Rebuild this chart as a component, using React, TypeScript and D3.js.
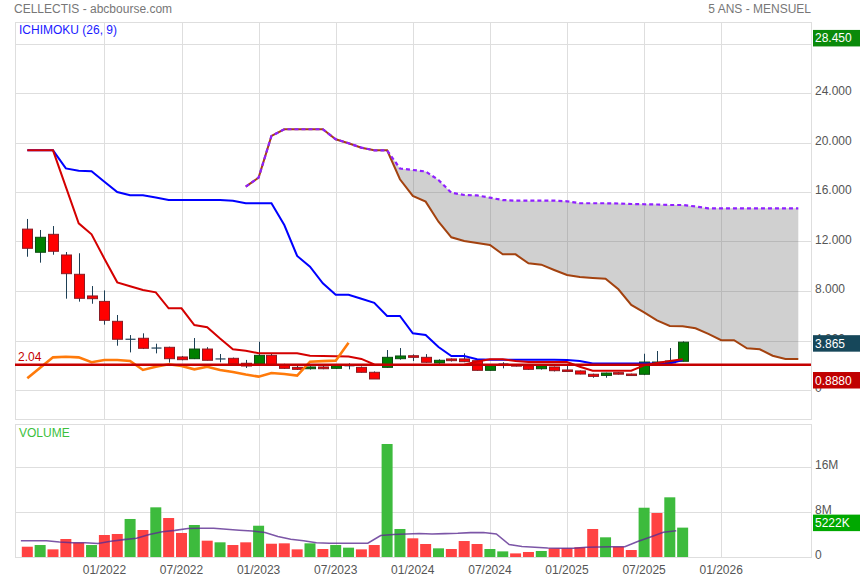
import * as d3 from "d3"

// monthly candles, 07/2021 -> 10/2025
const opens = [13.0, 11.13, 12.58, 10.91, 9.35, 7.6, 7.16, 5.55, 4.1, 4.18, 3.39, 3.45, 2.67, 2.53, 3.31, 2.51, 2.56, 2.16, 2.1, 2.8, 2.05, 1.83, 1.72, 1.86, 1.75, 1.96, 1.83, 1.43, 1.83, 2.53, 2.77, 2.64, 2.18, 2.51, 2.51, 2.37, 1.59, 2.1, 2.05, 1.96, 1.72, 1.86, 1.62, 1.54, 1.27, 1.18, 1.4, 1.29, 1.27, 2.16, 2.2, 2.32]
const highs = [13.82, 12.93, 13.25, 11.15, 11.05, 8.4, 8.05, 6.06, 4.44, 4.58, 3.74, 3.5, 2.75, 4.2, 3.46, 2.91, 2.62, 2.43, 3.9, 2.96, 2.12, 1.95, 1.92, 1.98, 2.0, 2.16, 1.9, 1.5, 3.23, 3.39, 2.88, 2.9, 2.48, 2.55, 2.96, 2.45, 2.0, 2.24, 2.1, 2.0, 1.98, 1.9, 1.96, 1.58, 1.32, 1.4, 1.45, 1.32, 2.93, 3.15, 3.39, 3.93]
const lows = [10.77, 10.29, 10.93, 7.38, 7.14, 6.97, 5.28, 3.58, 3.04, 3.31, 2.96, 2.21, 2.4, 2.5, 2.38, 2.24, 2.08, 1.78, 2.08, 2.0, 1.7, 1.62, 1.65, 1.68, 1.7, 1.67, 1.4, 0.888, 1.8, 2.45, 2.34, 2.2, 2.12, 2.3, 2.25, 1.55, 1.55, 1.75, 1.9, 1.62, 1.65, 1.5, 1.48, 1.27, 0.99, 0.99, 1.25, 1.15, 1.2, 2.1, 2.12, 2.3]
const closes = [11.45, 12.34, 11.21, 9.4, 7.41, 7.38, 5.63, 4.1, 4.1, 3.37, 3.39, 2.53, 2.45, 3.31, 2.4, 2.51, 2.1, 1.94, 2.8, 2.02, 1.75, 1.67, 1.86, 1.72, 1.96, 1.96, 1.43, 0.89, 2.64, 2.75, 2.64, 2.24, 2.4, 2.37, 2.29, 1.59, 1.97, 2.1, 1.94, 1.67, 1.96, 1.56, 1.51, 1.29, 1.1, 1.37, 1.29, 1.18, 2.26, 2.26, 2.34, 3.865]

// ichimoku lines
const tenkan = [19.37, 19.37, 19.37, 16.42, 13.47, 12.58, 10.61, 8.7, 8.39, 8.08, 7.89, 6.6, 6.6, 5.25, 5.07, 4.16, 3.29, 3.18, 2.97, 2.97, 2.97, 2.97, 2.77, 2.75, 2.73, 2.71, 2.51, 2.06, 2.02, 2.02, 2.02, 2.02, 2.02, 2.02, 2.05, 2.3, 2.48, 2.48, 2.34, 2.26, 2.26, 2.26, 2.26, 1.88, 1.56, 1.56, 1.56, 1.56, 1.99, 2.18, 2.34, 2.48]
const kijun = [19.37, 19.37, 19.37, 17.91, 17.72, 17.67, 16.83, 16.0, 15.73, 15.73, 15.56, 15.35, 15.35, 15.35, 15.35, 15.35, 15.3, 15.09, 15.09, 15.09, 13.33, 10.83, 9.97, 8.62, 7.7, 7.7, 7.37, 7.05, 5.98, 5.98, 4.58, 4.44, 3.47, 2.75, 2.75, 2.48, 2.45, 2.45, 2.45, 2.45, 2.45, 2.45, 2.42, 2.35, 2.15, 2.15, 2.15, 2.15, 2.15, 2.15, 2.15, 2.42]
const chikou = [0.94, 1.8, 2.64, 2.69, 2.64, 2.24, 2.42, 2.42, 2.34, 1.62, 1.88, 2.08, 1.94, 1.67, 1.88, 1.62, 1.45, 1.25, 1.08, 1.37, 1.29, 1.17, 2.29, 2.33, 2.37, 3.82]
// senkou spans start at 12/2022 (index 17)
const senkouStart = 17
const senkouA = [16.43, 17.16, 20.53, 21.07, 21.07, 21.07, 21.07, 20.26, 19.94, 19.58, 19.37, 19.37, 17.03, 15.69, 15.22, 13.6, 12.34, 12.04, 11.88, 11.72, 10.96, 10.96, 10.24, 10.13, 9.7, 9.29, 9.13, 9.05, 8.99, 8.14, 6.87, 6.28, 5.62, 5.17, 5.15, 4.99, 4.53, 4.02, 4.02, 3.37, 3.29, 2.77, 2.51, 2.51]
const senkouB = [16.43, 17.16, 20.53, 21.07, 21.07, 21.07, 21.07, 20.26, 19.94, 19.58, 19.37, 19.37, 17.9, 17.78, 17.66, 16.97, 15.94, 15.76, 15.72, 15.54, 15.35, 15.3, 15.3, 15.3, 15.3, 15.25, 15.09, 15.09, 15.09, 15.07, 15.03, 15.01, 14.99, 14.95, 14.95, 14.83, 14.68, 14.68, 14.68, 14.68, 14.68, 14.68, 14.68, 14.68]

// volume (millions)
const volumes = [1.83, 2.13, 1.36, 3.2, 2.55, 2.13, 3.91, 4.09, 6.76, 4.8, 8.83, 6.93, 4.27, 5.69, 2.9, 2.61, 2.13, 2.61, 5.56, 2.36, 2.43, 1.36, 2.43, 1.42, 2.13, 1.66, 1.36, 2.13, 20.09, 4.98, 3.32, 2.31, 1.54, 1.42, 2.84, 2.31, 1.42, 1.0, 0.64, 0.89, 1.07, 1.54, 1.54, 1.72, 4.98, 3.5, 1.83, 1.24, 8.76, 7.82, 10.61, 5.222]
const volumeUp = [0, 1, 0, 0, 0, 1, 0, 0, 1, 0, 1, 0, 0, 1, 0, 1, 0, 0, 1, 0, 0, 0, 1, 0, 1, 1, 0, 0, 1, 1, 0, 0, 1, 0, 0, 0, 1, 1, 0, 0, 1, 0, 0, 0, 0, 1, 0, 0, 1, 0, 1, 1]
const volumeAvg = [2.9, 2.9, 2.9, 2.67, 2.54, 2.54, 2.4, 2.81, 3.09, 3.32, 4.0, 4.48, 4.73, 5.07, 5.1, 5.1, 4.94, 4.76, 4.62, 4.36, 3.64, 3.15, 2.9, 2.54, 2.45, 2.44, 2.44, 2.44, 3.82, 4.0, 4.09, 4.18, 4.09, 4.16, 4.21, 4.34, 4.36, 4.09, 2.22, 1.87, 1.72, 1.6, 1.55, 1.55, 1.74, 1.78, 1.81, 1.83, 2.76, 3.56, 4.39, 4.68]

const priceTicks = [0, 4, 8, 12, 16, 20, 24, 28]
const priceTickLabels = ["0", "4.000", "8.000", "12.000", "16.000", "20.000", "24.000", ""]
const volumeTicks = [0, 8, 16]
const volumeTickLabels = ["0", "8M", "16M"]
const dateTicks = ["01/2022", "07/2022", "01/2023", "07/2023", "01/2024", "07/2024", "01/2025", "07/2025", "01/2026"]
const refLevel = 2.04
const highLabel = 28.45
const lowLabel = 0.888
const lastClose = 3.865
const lastVolume = 5.222

const font = "Arial, 'Liberation Sans', sans-serif"
const plot = { left: 15, right: 811, top: 22, bottom: 419 }
const vPanel = { top: 424, bottom: 557 }

// month index from 07/2021
const monthIndex = (s: string) => {
  const [m, yr] = s.split("/").map(Number)
  return (yr - 2021) * 12 + (m - 7)
}

export default function App() {
  const x = d3.scaleLinear().domain([0, 51]).range([27.3, 682.65])
  const y = d3.scaleLinear().domain([0, 28]).range([390, 43.5])
  const yv = d3.scaleLinear().domain([0, 16]).range([557, 467])

  const line = (offset: number, sc: d3.ScaleLinear<number, number>) =>
    d3
      .line<number>()
      .x((_, i) => x(i + offset))
      .y((d) => sc(d))

  const cloud = d3
    .area<number>()
    .x((_, i) => x(i + senkouStart))
    .y0((_, i) => y(senkouA[i]))
    .y1((_, i) => y(senkouB[i]))

  const up = "#008000"
  const down = "#ff0000"
  const wick = "#1d3f55"

  return (
    <div style={{ position: "absolute", left: 0, top: 0 }}>
      <svg width={860} height={580} style={{ display: "block", fontFamily: font }}>
        <rect width={860} height={580} fill="#fff" />
        <text x={14} y={13} fontSize={12} fill="#777">CELLECTIS - abcbourse.com</text>
        <text x={811} y={13} fontSize={12} fill="#777" textAnchor="end">5 ANS - MENSUEL</text>

        {/* grids */}
        <g stroke="#dedede" strokeWidth={1}>
          {priceTicks.map((t) => (
            <line key={"p" + t} x1={plot.left} x2={plot.right} y1={Math.round(y(t)) + 0.5} y2={Math.round(y(t)) + 0.5} />
          ))}
          {volumeTicks.map((t) => (
            <line key={"v" + t} x1={plot.left} x2={plot.right} y1={Math.round(yv(t)) + 0.5} y2={Math.round(yv(t)) + 0.5} />
          ))}
          {dateTicks.map((d) => {
            const xx = Math.round(x(monthIndex(d))) + 0.5
            return (
              <g key={d}>
                <line x1={xx} x2={xx} y1={plot.top} y2={plot.bottom} />
                <line x1={xx} x2={xx} y1={vPanel.top} y2={vPanel.bottom} />
              </g>
            )
          })}
          <rect x={plot.left + 0.5} y={plot.top + 0.5} width={plot.right - plot.left} height={plot.bottom - plot.top} fill="none" />
          <rect x={plot.left + 0.5} y={vPanel.top + 0.5} width={plot.right - plot.left} height={vPanel.bottom - vPanel.top} fill="none" />
        </g>

        <text x={19} y={34} fontSize={12} fill="#1a1aff">ICHIMOKU (26, 9)</text>
        <text x={19} y={437} fontSize={12} fill="#3cbf3c">VOLUME</text>

        {/* cloud */}
        <path d={cloud(senkouA) ?? ""} fill="#6c6c6c" fillOpacity={0.32} />
        <path d={line(senkouStart, y)(senkouA) ?? ""} fill="none" stroke="#a3420f" strokeWidth={2} />
        <path d={line(senkouStart, y)(senkouB) ?? ""} fill="none" stroke="#9020ff" strokeWidth={2.2} strokeDasharray="4,3" />

        {/* candles */}
        {closes.map((c, i) => {
          const o = opens[i]
          const cx = Math.round(x(i)) + 0.5
          const top = y(Math.max(o, c))
          const bot = y(Math.min(o, c))
          return (
            <g key={"c" + i}>
              <line x1={cx} x2={cx} y1={y(highs[i])} y2={y(lows[i])} stroke={wick} strokeWidth={1} />
              {o === c ? (
                <line x1={cx - 5} x2={cx + 5} y1={top} y2={top} stroke={wick} strokeWidth={1.2} />
              ) : (
                <rect
                  x={cx - 5}
                  y={top}
                  width={10}
                  height={Math.max(bot - top, 1.5)}
                  fill={c > o ? up : down}
                  stroke={c > o ? "#0d4a12" : "#8a1c24"}
                  strokeWidth={1}
                />
              )}
            </g>
          )
        })}

        <path d={line(0, y)(kijun) ?? ""} fill="none" stroke="#0000ff" strokeWidth={2} />
        <path d={line(0, y)(tenkan) ?? ""} fill="none" stroke="#d40000" strokeWidth={2} />
        <path d={line(0, y)(chikou) ?? ""} fill="none" stroke="#ff7a0a" strokeWidth={2.6} />

        <line x1={plot.left} x2={plot.right} y1={y(refLevel)} y2={y(refLevel)} stroke="#c40000" strokeWidth={2.4} />
        <text x={18} y={y(refLevel) - 4} fontSize={12} fill="#c40000">{refLevel.toFixed(2)}</text>

        {/* volume */}
        {volumes.map((v, i) => (
          <rect
            key={"v" + i}
            x={x(i) - 5.5}
            y={yv(v)}
            width={11}
            height={yv(0) - yv(v)}
            fill={volumeUp[i] ? "#3dbb3d" : "#ff4242"}
          />
        ))}
        <path
          d={line(-0.5, yv)(volumeAvg) ?? ""}
          fill="none"
          stroke="#5b2c91"
          strokeOpacity={0.8}
          strokeWidth={1.6}
        />

        {/* axes labels */}
        <g fontSize={12} fill="#555">
          {priceTicks.map((t, i) => (
            <text key={"pt" + t} x={815} y={y(t) + 2}>{priceTickLabels[i]}</text>
          ))}
          {volumeTicks.map((t, i) => (
            <text key={"vt" + t} x={815} y={yv(t) + 1.5}>{volumeTickLabels[i]}</text>
          ))}
          {dateTicks.map((d) => (
            <text key={"dt" + d} x={x(monthIndex(d))} y={574} textAnchor="middle">{d}</text>
          ))}
        </g>

        {/* value badges */}
        {[
          { v: highLabel, text: highLabel.toFixed(3), fill: "#0a8a0a", yy: y(highLabel) },
          { v: lastClose, text: lastClose.toFixed(3), fill: "#16475a", yy: y(lastClose) + 1 },
          { v: lowLabel, text: lowLabel.toFixed(4), fill: "#c00000", yy: y(lowLabel) + 1 },
          { v: lastVolume, text: Math.round(lastVolume * 1000) + "K", fill: "#00a800", yy: yv(lastVolume) - 5 },
        ].map((b) => (
          <g key={b.text}>
            <rect x={813} y={b.yy - 8} width={47} height={16.5} fill={b.fill} />
            <text x={815} y={b.yy + 4.5} fontSize={12} fill="#fff">{b.text}</text>
          </g>
        ))}
      </svg>
    </div>
  )
}
